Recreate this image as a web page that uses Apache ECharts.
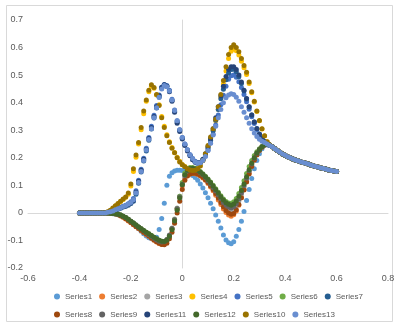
<!DOCTYPE html>
<html>
<head>
<meta charset="utf-8">
<script src="https://cdn.jsdelivr.net/npm/echarts@6/dist/echarts.min.js"></script>
<style>
  html, body { margin: 0; padding: 0; background: #ffffff; }
  #chart { width: 398px; height: 324px; }
</style>
</head>
<body>
<div id="chart"></div>
<script>
// Potential axis shared by every series (step 0.01 from -0.40 to 0.60)
const potential = [
  -0.40, -0.39, -0.38, -0.37, -0.36, -0.35, -0.34, -0.33, -0.32, -0.31,
  -0.30, -0.29, -0.28, -0.27, -0.26, -0.25, -0.24, -0.23, -0.22, -0.21,
  -0.20, -0.19, -0.18, -0.17, -0.16, -0.15, -0.14, -0.13, -0.12, -0.11,
  -0.10, -0.09, -0.08, -0.07, -0.06, -0.05, -0.04, -0.03, -0.02, -0.01,
  0.00, 0.01, 0.02, 0.03, 0.04, 0.05, 0.06, 0.07, 0.08, 0.09,
  0.10, 0.11, 0.12, 0.13, 0.14, 0.15, 0.16, 0.17, 0.18, 0.19,
  0.20, 0.21, 0.22, 0.23, 0.24, 0.25, 0.26, 0.27, 0.28, 0.29,
  0.30, 0.31, 0.32, 0.33, 0.34, 0.35, 0.36, 0.37, 0.38, 0.39,
  0.40, 0.41, 0.42, 0.43, 0.44, 0.45, 0.46, 0.47, 0.48, 0.49,
  0.50, 0.51, 0.52, 0.53, 0.54, 0.55, 0.56, 0.57, 0.58, 0.59,
  0.60
];

// Flat start (-0.40 .. -0.31), common to all series
const baseline = [0, 0, 0, 0, 0, 0, 0, 0, 0, 0];

// Common decay (0.35 .. 0.60)
const decay = [
  0.240, 0.233, 0.226, 0.220, 0.214, 0.209, 0.204, 0.200, 0.196, 0.192,
  0.189, 0.186, 0.183, 0.180, 0.177, 0.174, 0.171, 0.168, 0.166, 0.163,
  0.161, 0.158, 0.156, 0.154, 0.152, 0.150
];

// Per-series values for -0.30 .. 0.34
const series1 = [
  0.000, -0.001, -0.002, -0.003, -0.005, -0.007, -0.010, -0.014, -0.019, -0.025,
  -0.032, -0.040, -0.049, -0.058, -0.067, -0.076, -0.084, -0.090, -0.094, -0.095,
  -0.088, -0.060, -0.020, 0.035, 0.100, 0.133, 0.146, 0.152, 0.155, 0.155,
  0.154, 0.151, 0.147, 0.142, 0.136, 0.128, 0.118, 0.105, 0.090, 0.073,
  0.055, 0.035, 0.015, -0.008, -0.030, -0.055, -0.080, -0.098, -0.108, -0.112,
  -0.105, -0.085, -0.060, -0.030, 0.005, 0.045, 0.085, 0.125, 0.160, 0.190,
  0.215, 0.233, 0.245, 0.250, 0.246
];
const series2 = [
  0.000, 0.000, -0.001, -0.002, -0.004, -0.007, -0.011, -0.016, -0.022, -0.029,
  -0.036, -0.043, -0.050, -0.057, -0.064, -0.071, -0.078, -0.085, -0.092, -0.099,
  -0.106, -0.111, -0.114, -0.112, -0.102, -0.084, -0.058, -0.024, 0.016, 0.058,
  0.098, 0.124, 0.136, 0.141, 0.143, 0.142, 0.139, 0.134, 0.127, 0.118,
  0.107, 0.094, 0.080, 0.064, 0.047, 0.030, 0.014, 0.001, -0.008, -0.012,
  -0.007, 0.007, 0.028, 0.055, 0.085, 0.115, 0.145, 0.172, 0.195, 0.213,
  0.228, 0.239, 0.246, 0.250, 0.246
];
const series3 = [
  0.000, 0.000, -0.001, -0.002, -0.004, -0.006, -0.009, -0.013, -0.018, -0.024,
  -0.031, -0.038, -0.045, -0.052, -0.059, -0.066, -0.073, -0.080, -0.087, -0.094,
  -0.100, -0.105, -0.108, -0.106, -0.097, -0.080, -0.055, -0.022, 0.018, 0.060,
  0.102, 0.130, 0.145, 0.151, 0.153, 0.152, 0.148, 0.142, 0.134, 0.124,
  0.113, 0.101, 0.088, 0.074, 0.059, 0.044, 0.030, 0.018, 0.011, 0.008,
  0.012, 0.024, 0.043, 0.067, 0.094, 0.122, 0.150, 0.175, 0.197, 0.215,
  0.229, 0.240, 0.247, 0.250, 0.246
];
const series4 = [
  0.000, 0.003, 0.009, 0.017, 0.025, 0.033, 0.041, 0.049, 0.057, 0.068,
  0.098, 0.150, 0.202, 0.250, 0.302, 0.360, 0.405, 0.440, 0.460, 0.452,
  0.428, 0.392, 0.350, 0.314, 0.284, 0.258, 0.237, 0.219, 0.202, 0.187,
  0.176, 0.168, 0.161, 0.157, 0.155, 0.156, 0.161, 0.171, 0.189, 0.212,
  0.240, 0.270, 0.300, 0.334, 0.376, 0.420, 0.468, 0.515, 0.560, 0.587,
  0.595, 0.588, 0.573, 0.550, 0.527, 0.502, 0.470, 0.436, 0.402, 0.368,
  0.334, 0.304, 0.279, 0.258, 0.246
];
const series5 = [
  0.000, 0.002, 0.004, 0.007, 0.011, 0.016, 0.020, 0.024, 0.028, 0.033,
  0.040, 0.052, 0.080, 0.118, 0.158, 0.198, 0.235, 0.274, 0.314, 0.354,
  0.390, 0.428, 0.456, 0.466, 0.462, 0.445, 0.412, 0.373, 0.334, 0.302,
  0.274, 0.250, 0.229, 0.211, 0.197, 0.187, 0.182, 0.183, 0.191, 0.206,
  0.227, 0.254, 0.285, 0.319, 0.355, 0.392, 0.427, 0.460, 0.485, 0.498,
  0.500, 0.492, 0.476, 0.455, 0.430, 0.403, 0.376, 0.349, 0.324, 0.302,
  0.283, 0.269, 0.258, 0.250, 0.245
];
const series6 = [
  0.000, 0.000, -0.001, -0.002, -0.003, -0.005, -0.008, -0.012, -0.017, -0.023,
  -0.030, -0.037, -0.044, -0.051, -0.058, -0.064, -0.070, -0.076, -0.082, -0.088,
  -0.094, -0.099, -0.103, -0.104, -0.098, -0.083, -0.058, -0.025, 0.015, 0.060,
  0.110, 0.145, 0.160, 0.165, 0.165, 0.162, 0.157, 0.150, 0.142, 0.133,
  0.123, 0.112, 0.100, 0.088, 0.075, 0.062, 0.050, 0.041, 0.036, 0.035,
  0.040, 0.052, 0.070, 0.092, 0.117, 0.143, 0.168, 0.190, 0.208, 0.222,
  0.233, 0.241, 0.247, 0.250, 0.246
];
const series7 = [
  0.000, 0.001, 0.003, 0.005, 0.009, 0.013, 0.017, 0.021, 0.024, 0.028,
  0.034, 0.042, 0.068, 0.108, 0.148, 0.188, 0.225, 0.264, 0.304, 0.344,
  0.381, 0.420, 0.452, 0.464, 0.460, 0.442, 0.408, 0.369, 0.330, 0.299,
  0.271, 0.247, 0.227, 0.209, 0.195, 0.185, 0.181, 0.183, 0.193, 0.211,
  0.235, 0.264, 0.298, 0.336, 0.375, 0.414, 0.449, 0.483, 0.508, 0.520,
  0.521, 0.512, 0.494, 0.470, 0.442, 0.413, 0.384, 0.355, 0.330, 0.306,
  0.286, 0.271, 0.259, 0.250, 0.245
];
const series8 = [
  0.000, 0.000, -0.001, -0.002, -0.003, -0.006, -0.010, -0.015, -0.021, -0.028,
  -0.035, -0.042, -0.049, -0.056, -0.063, -0.070, -0.077, -0.084, -0.091, -0.098,
  -0.105, -0.110, -0.115, -0.116, -0.110, -0.094, -0.070, -0.038, 0.000, 0.042,
  0.085, 0.118, 0.134, 0.141, 0.144, 0.144, 0.141, 0.136, 0.129, 0.120,
  0.110, 0.098, 0.085, 0.070, 0.054, 0.038, 0.022, 0.009, 0.000, -0.005,
  -0.002, 0.011, 0.030, 0.055, 0.083, 0.112, 0.141, 0.168, 0.191, 0.210,
  0.226, 0.238, 0.246, 0.250, 0.246
];
const series9 = [
  0.000, 0.000, -0.001, -0.002, -0.003, -0.005, -0.008, -0.012, -0.017, -0.023,
  -0.030, -0.037, -0.044, -0.051, -0.058, -0.065, -0.072, -0.079, -0.086, -0.092,
  -0.098, -0.103, -0.106, -0.105, -0.097, -0.081, -0.057, -0.025, 0.015, 0.058,
  0.104, 0.136, 0.152, 0.158, 0.159, 0.157, 0.153, 0.146, 0.138, 0.128,
  0.117, 0.105, 0.092, 0.079, 0.065, 0.051, 0.038, 0.028, 0.021, 0.018,
  0.022, 0.033, 0.050, 0.073, 0.099, 0.126, 0.153, 0.177, 0.198, 0.216,
  0.230, 0.240, 0.247, 0.250, 0.246
];
const series10 = [
  0.000, 0.004, 0.010, 0.018, 0.026, 0.034, 0.042, 0.050, 0.058, 0.072,
  0.105, 0.160, 0.210, 0.255, 0.310, 0.370, 0.410, 0.445, 0.465, 0.455,
  0.430, 0.390, 0.345, 0.310, 0.280, 0.255, 0.235, 0.218, 0.200, 0.185,
  0.175, 0.167, 0.160, 0.156, 0.154, 0.155, 0.160, 0.170, 0.190, 0.215,
  0.245, 0.275, 0.305, 0.340, 0.385, 0.430, 0.480, 0.530, 0.575, 0.600,
  0.610, 0.600, 0.585, 0.560, 0.535, 0.510, 0.475, 0.440, 0.405, 0.370,
  0.335, 0.305, 0.280, 0.258, 0.246
];
const series11 = [
  0.000, 0.001, 0.003, 0.006, 0.010, 0.015, 0.019, 0.022, 0.025, 0.030,
  0.036, 0.045, 0.075, 0.115, 0.155, 0.195, 0.230, 0.270, 0.310, 0.350,
  0.385, 0.425, 0.455, 0.465, 0.460, 0.440, 0.405, 0.365, 0.325, 0.295,
  0.268, 0.245, 0.225, 0.207, 0.193, 0.184, 0.180, 0.183, 0.195, 0.215,
  0.240, 0.270, 0.305, 0.345, 0.385, 0.425, 0.460, 0.495, 0.520, 0.530,
  0.530, 0.520, 0.500, 0.475, 0.445, 0.415, 0.385, 0.355, 0.330, 0.305,
  0.285, 0.270, 0.258, 0.250, 0.245
];
const series12 = [
  0.000, 0.000, -0.001, -0.002, -0.003, -0.005, -0.008, -0.012, -0.017, -0.023,
  -0.030, -0.037, -0.044, -0.051, -0.058, -0.064, -0.070, -0.076, -0.082, -0.088,
  -0.094, -0.099, -0.103, -0.104, -0.099, -0.085, -0.061, -0.029, 0.010, 0.054,
  0.102, 0.138, 0.155, 0.161, 0.162, 0.160, 0.155, 0.148, 0.140, 0.131,
  0.121, 0.110, 0.098, 0.085, 0.072, 0.059, 0.047, 0.037, 0.031, 0.028,
  0.032, 0.043, 0.060, 0.081, 0.105, 0.131, 0.157, 0.180, 0.200, 0.217,
  0.230, 0.240, 0.247, 0.250, 0.246
];
const series13 = [
  0.000, 0.002, 0.004, 0.007, 0.011, 0.015, 0.019, 0.023, 0.027, 0.032,
  0.038, 0.048, 0.072, 0.110, 0.150, 0.190, 0.228, 0.266, 0.305, 0.345,
  0.382, 0.420, 0.450, 0.462, 0.458, 0.442, 0.410, 0.372, 0.334, 0.302,
  0.274, 0.250, 0.229, 0.211, 0.197, 0.186, 0.180, 0.182, 0.190, 0.205,
  0.226, 0.253, 0.283, 0.314, 0.345, 0.375, 0.400, 0.418, 0.428, 0.432,
  0.430, 0.420, 0.405, 0.385, 0.365, 0.345, 0.325, 0.305, 0.290, 0.277,
  0.267, 0.260, 0.255, 0.250, 0.245
];

// Plot order, names and marker colours
const seriesNames = ['Series1', 'Series2', 'Series3', 'Series4', 'Series5', 'Series6', 'Series7',
                     'Series8', 'Series9', 'Series11', 'Series12', 'Series10', 'Series13'];
const seriesValues = [series1, series2, series3, series4, series5, series6, series7,
                      series8, series9, series11, series12, series10, series13];
const seriesColors = ['#5B9BD5', '#ED7D31', '#A5A5A5', '#FFC000', '#4472C4', '#70AD47', '#255E91',
                      '#9E480E', '#636363', '#264478', '#43682B', '#997300', '#698ED0'];

const FONT = '"Liberation Sans", Arial, sans-serif';

const chart = echarts.init(document.getElementById('chart'), null, { renderer: 'canvas' });

const series = seriesNames.map((name, k) => {
  const ys = baseline.concat(seriesValues[k], decay);
  return {
    name: name,
    type: 'scatter',
    symbol: 'circle',
    symbolSize: 5,
    itemStyle: { color: seriesColors[k], opacity: 1 },
    emphasis: { disabled: true },
    data: potential.map((x, i) => [x, ys[i]])
  };
});

chart.setOption({
  animation: false,
  backgroundColor: '#ffffff',
  textStyle: { fontFamily: FONT },
  graphic: [{
    type: 'rect',
    shape: { x: 6.5, y: 5.5, width: 386, height: 316 },
    style: { fill: 'none', stroke: '#d9d9d9', lineWidth: 1 },
    silent: true,
    z: -1
  }],
  grid: { left: 28, right: 10, top: 20, bottom: 56, containLabel: false },
  xAxis: {
    type: 'value',
    min: -0.6,
    max: 0.8,
    interval: 0.2,
    axisLine: { onZero: true, lineStyle: { color: '#d9d9d9', width: 1 } },
    axisTick: { show: false },
    splitLine: { show: false },
    axisLabel: { color: '#595959', fontSize: 9, margin: 6, fontFamily: FONT,
                 showMinLabel: true, showMaxLabel: true }
  },
  yAxis: {
    type: 'value',
    min: -0.2,
    max: 0.7,
    interval: 0.1,
    axisLine: { show: true, onZero: true, lineStyle: { color: '#d9d9d9', width: 1 } },
    axisTick: { show: false },
    splitLine: { show: false },
    axisLabel: { color: '#595959', fontSize: 9, margin: 5, fontFamily: FONT }
  },
  legend: {
    data: seriesNames,
    left: 49,
    top: 286,
    width: 320,
    icon: 'circle',
    itemWidth: 6,
    itemHeight: 6,
    itemGap: 7,
    selectedMode: false,
    textStyle: { color: '#595959', fontSize: 8, lineHeight: 11, fontFamily: FONT }
  },
  series: series
});
</script>
</body>
</html>
